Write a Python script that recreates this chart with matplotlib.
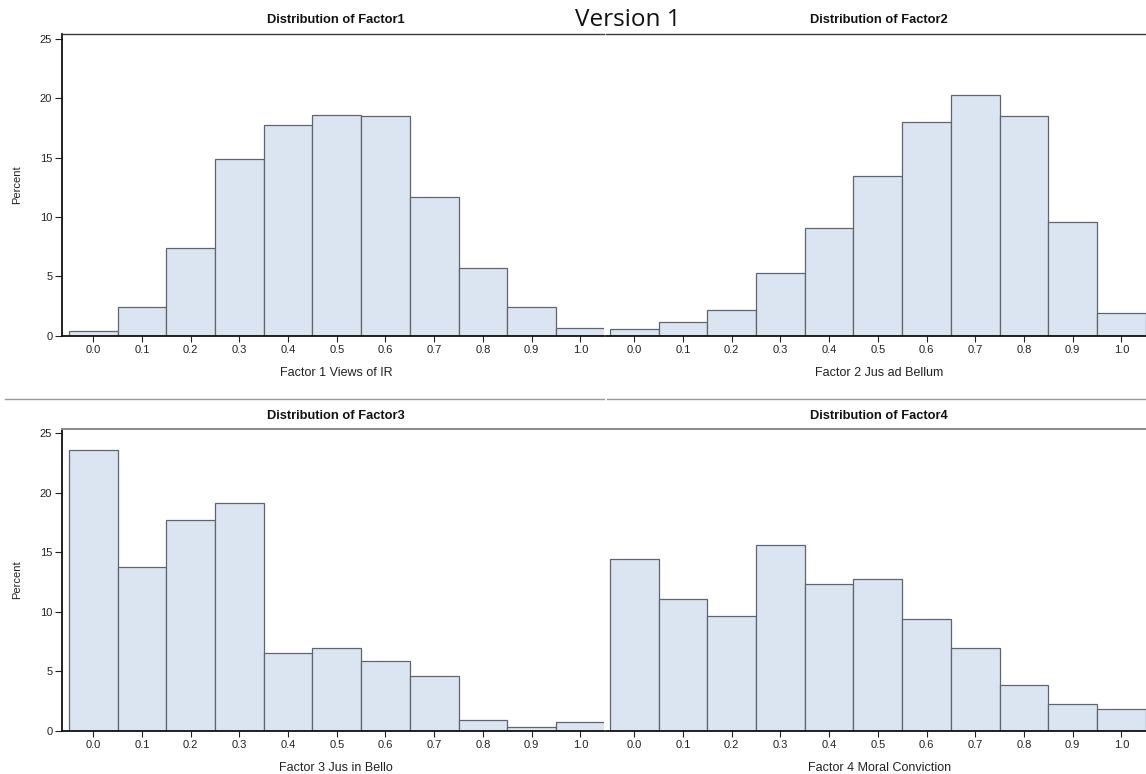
import matplotlib
matplotlib.use("Agg")
import matplotlib.pyplot as plt
from matplotlib.lines import Line2D

plt.rcParams['font.family'] = ['Liberation Sans', 'DejaVu Sans']

# ---- data (percent per bin, bins centred at midpoints) ----
midpoints = [0.0, 0.1, 0.2, 0.3, 0.4, 0.5, 0.6, 0.7, 0.8, 0.9, 1.0]
factor1 = [0.36, 2.41, 7.38, 14.87, 17.76, 18.57, 18.49, 11.67, 5.70, 2.41, 0.62]
factor2 = [0.56, 1.15, 2.13, 5.27, 9.06, 13.50, 17.99, 20.31, 18.55, 9.54, 1.91]
factor3 = [23.57, 13.73, 17.68, 19.17, 6.56, 6.92, 5.83, 4.57, 0.87, 0.34, 0.73]
factor4 = [14.43, 11.04, 9.61, 15.64, 12.36, 12.78, 9.39, 6.95, 3.81, 2.21, 1.82]
titles = ["Distribution of Factor1", "Distribution of Factor2",
          "Distribution of Factor3", "Distribution of Factor4"]
xlabels = ["Factor 1 Views of IR", "Factor 2 Jus ad Bellum",
           "Factor 3 Jus in Bello", "Factor 4 Moral Conviction"]
yticks = [0, 5, 10, 15, 20, 25]
xtick_labels = ["0.0", "0.1", "0.2", "0.3", "0.4", "0.5", "0.6", "0.7", "0.8", "0.9", "1.0"]

W, H = 1146, 774
fig = plt.figure(figsize=(W / 100, H / 100), dpi=100)

def px_axes(x0, x1, ytop, ybot):
    return fig.add_axes([x0 / W, (H - ybot) / H, (x1 - x0) / W, (ybot - ytop) / H])

# axes boxes in pixels (left, right, top, bottom)
boxes = [(62, 604, 33.7, 335.7), (606, 1146, 33.7, 335.7),
         (62, 604, 429, 730.7), (606, 1146, 429, 730.7)]
xlims = [(-0.0643, 1.0487), (-0.0581, 1.0507), (-0.0643, 1.0487), (-0.0581, 1.0507)]
ylims = [(0, 25.45), (0, 25.45), (0, 25.36), (0, 25.36)]
datas = [factor1, factor2, factor3, factor4]

fill = '#dbe5f1'
edge = '#5e6570'

for i, (box, data) in enumerate(zip(boxes, datas)):
    ax = px_axes(*box)
    ax.bar(midpoints, data, width=0.1, color=fill, edgecolor=edge, linewidth=0.9)
    ax.set_xlim(*xlims[i])
    ax.set_ylim(*ylims[i])
    ax.set_xticks(midpoints)
    ax.set_xticklabels(xtick_labels, fontsize=8, color='#222222')
    ax.tick_params(axis='x', direction='out', length=4, width=0.8, pad=2.5, color='#222222')
    left = (i % 2 == 0)
    ax.spines['right'].set_visible(False)
    ax.spines['bottom'].set_linewidth(1.3)
    ax.spines['bottom'].set_color('#111111')
    if i < 2:
        ax.spines['top'].set_color('#3a3a3a')
        ax.spines['top'].set_linewidth(1.0)
    else:
        ax.spines['top'].set_color('#8a8a8a')
        ax.spines['top'].set_linewidth(1.4)
    if left:
        ax.spines['left'].set_linewidth(1.3)
        ax.spines['left'].set_color('#111111')
        ax.set_yticks(yticks)
        ax.set_yticklabels([str(t) for t in yticks], fontsize=8, color='#222222')
        ax.tick_params(axis='y', direction='out', length=5, width=0.8, pad=2, color='#222222')
        ax.set_ylabel("Percent", fontsize=8, color='#222222')
        ax.yaxis.set_label_coords(-0.083, 0.5)
        ax.yaxis.label.set_va('center')
    else:
        ax.spines['left'].set_visible(False)
        ax.set_yticks([])
    ax.set_xlabel(xlabels[i], fontsize=9, color='#222222')
    ax.xaxis.set_label_coords(0.506, -0.1235)
    ax.xaxis.label.set_va('center')
    ax.text(0.505, 1.044, titles[i], transform=ax.transAxes, ha='center', va='center',
            fontsize=9.3, fontweight='bold', color='#111111')

# separator lines between the two stitched images
ysep = 1 - 399.3 / H
fig.add_artist(Line2D([5 / W, 604 / W], [ysep, ysep], color='#999999', lw=1.0))
fig.add_artist(Line2D([607 / W, 1.0], [ysep, ysep], color='#999999', lw=1.0))

fig.text(628 / W, 1 - 19.5 / H, "Version 1", ha='center', va='center',
         fontsize=17.5, family=['Open Sans', 'DejaVu Sans'], color='#111111')

fig.savefig("out.png", dpi=100)
